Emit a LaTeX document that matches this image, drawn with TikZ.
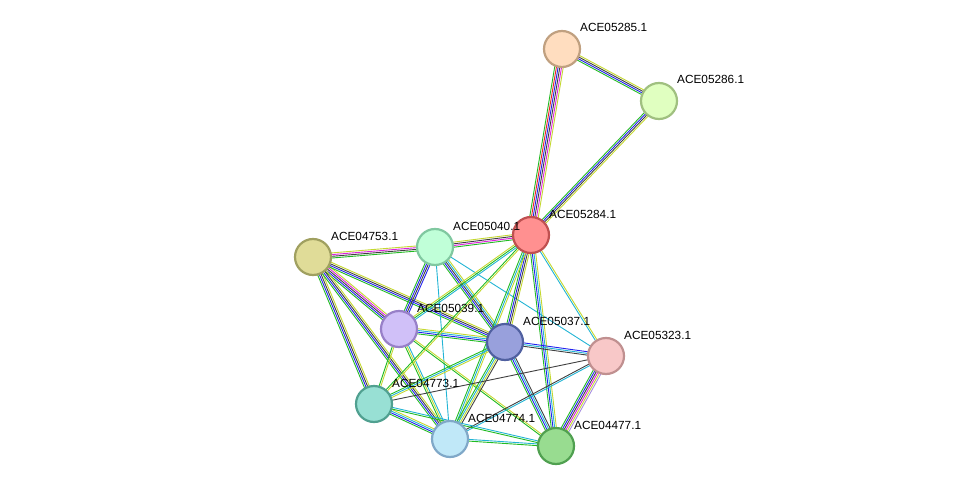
\documentclass[tikz,border=0pt]{standalone}
\usepackage{fontspec}
\setmainfont{Liberation Sans}
\usetikzlibrary{calc,backgrounds}
\definecolor{eg}{HTML}{22BB22}
\definecolor{er}{HTML}{EE2222}
\definecolor{eb}{HTML}{2222EE}
\definecolor{ek}{HTML}{404040}
\definecolor{em}{HTML}{DD22DD}
\definecolor{ey}{HTML}{C4D830}
\definecolor{ec}{HTML}{22B4D4}
\definecolor{el}{HTML}{A890E0}
\newcommand{\edge}[3]{%
  \foreach \c [count=\n] in {#3} {\xdef\ncol{\n}}
  \foreach \c [count=\i] in {#3} {
    \pgfmathsetmacro{\o}{(\i-(\ncol+1)/2)*1.7}
    \draw[\c, line width=0.9pt] ($(#1.center)!\o pt!90:(#2.center)$) -- ($(#2.center)!\o pt!-90:(#1.center)$);
  }}
\begin{document}
\begin{tikzpicture}[x=1pt, y=-1pt]
\tikzset{
prot/.style={circle, minimum size=36pt, inner sep=0pt, line width=2.2pt},
lbl/.style={font=\fontsize{11.8}{13}\selectfont, anchor=base west, inner sep=0pt},
}
\useasboundingbox (0,0) rectangle (976,492);
% proteins
\node [prot, fill={rgb,255:red,255;green,221;blue,191}, draw={rgb,255:red,192;green,160;blue,128}] (p5285) at (562,49) {};
\node [prot, fill={rgb,255:red,224;green,255;blue,192}, draw={rgb,255:red,160;green,192;blue,128}] (p5286) at (659,101) {};
\node [prot, fill={rgb,255:red,255;green,144;blue,144}, draw={rgb,255:red,192;green,80;blue,80}] (p5284) at (531,235) {};
\node [prot, fill={rgb,255:red,192;green,255;blue,216}, draw={rgb,255:red,128;green,200;blue,160}] (p5040) at (435,247) {};
\node [prot, fill={rgb,255:red,224;green,220;blue,152}, draw={rgb,255:red,160;green,160;blue,96}] (p4753) at (313,257) {};
\node [prot, fill={rgb,255:red,208;green,192;blue,248}, draw={rgb,255:red,152;green,128;blue,200}] (p5039) at (399,329) {};
\node [prot, fill={rgb,255:red,152;green,160;blue,220}, draw={rgb,255:red,80;green,96;blue,160}] (p5037) at (505,342) {};
\node [prot, fill={rgb,255:red,248;green,200;blue,200}, draw={rgb,255:red,192;green,144;blue,144}] (p5323) at (606,356) {};
\node [prot, fill={rgb,255:red,152;green,224;blue,212}, draw={rgb,255:red,80;green,160;blue,144}] (p4773) at (374,404) {};
\node [prot, fill={rgb,255:red,192;green,232;blue,248}, draw={rgb,255:red,128;green,168;blue,200}] (p4774) at (450,439) {};
\node [prot, fill={rgb,255:red,152;green,220;blue,144}, draw={rgb,255:red,80;green,160;blue,80}] (p4477) at (556,446) {};
% labels
\foreach \p/\t in {p5285/ACE05285.1, p5286/ACE05286.1, p5284/ACE05284.1, p5040/ACE05040.1,
  p4753/ACE04753.1, p5039/ACE05039.1, p5037/ACE05037.1, p5323/ACE05323.1,
  p4773/ACE04773.1, p4774/ACE04774.1, p4477/ACE04477.1}
  \node [lbl] (l\p) at ($(\p)+(18,-17)$) {\t};
% interactions
\begin{scope}[on background layer]
\edge{p5285}{p5284}{eg,er,eb,ek,em,ey}
\edge{p5285}{p5286}{eg,eb,ek,ey}
\edge{p5286}{p5284}{eg,eb,ek,ey}
\edge{p5040}{p5284}{eg,em,ek,ey}
\edge{p4753}{p5040}{eg,ek,em,ey}
\edge{p4753}{p5039}{eg,eb,ek,em,ey}
\edge{p4753}{p5037}{eg,eb,ek,ey}
\edge{p4753}{p4773}{eg,eb,ek,ey}
\edge{p4753}{p4774}{eg,eb,ek,ey}
\edge{p5040}{p5039}{eg,eb,ek,eb}
\edge{p5040}{p5037}{eg,eb,ek,ec,ey}
\edge{p5040}{p4774}{ec}
\edge{p5040}{p5323}{ec}
\edge{p5039}{p5284}{ec,eg,ey}
\edge{p5039}{p5037}{eg,eb,ec,ey}
\edge{p5039}{p4773}{eg,ey}
\edge{p5039}{p4774}{eg,ey,ec}
\edge{p5039}{p4477}{eg,ey}
\edge{p5284}{p5037}{eg,eb,ek,ey}
\edge{p5284}{p4773}{eg,ey}
\edge{p5284}{p4774}{eg,ec,ey}
\edge{p5284}{p4477}{eg,eb,ec,ey}
\edge{p5284}{p5323}{ec,ey}
\edge{p5037}{p5323}{ek,ec,eb}
\edge{p5037}{p4773}{eg,ec,ey}
\edge{p5037}{p4774}{eg,ec,ey,ek}
\edge{p5037}{p4477}{eg,eb,ec,ek}
\edge{p5323}{p4477}{eg,eb,ek,em,ey,el}
\edge{p5323}{p4773}{ek}
\edge{p5323}{p4774}{ek,ec}
\edge{p4773}{p4774}{eg,eb,ec,ey}
\edge{p4773}{p4477}{eg,ec}
\edge{p4774}{p4477}{eg,ec}
\end{scope}
\end{tikzpicture}
\end{document}
